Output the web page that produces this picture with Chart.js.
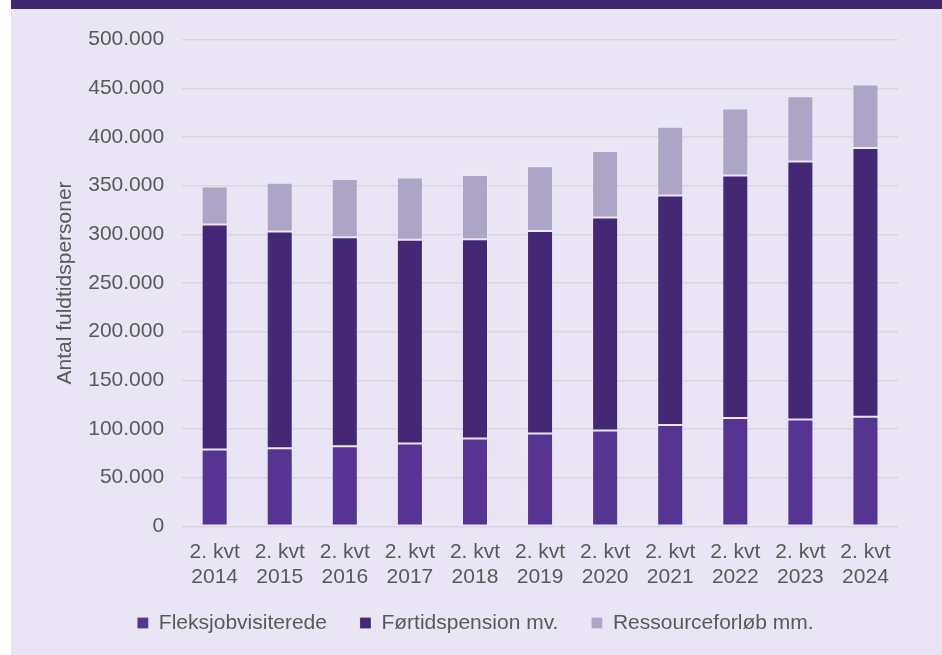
<!DOCTYPE html>
<html>
<head>
<meta charset="utf-8">
<script src="https://cdn.jsdelivr.net/npm/chart.js@4/dist/chart.umd.min.js"></script>
<style>
  html, body { margin: 0; padding: 0; background: #ffffff; }
  body { width: 942px; height: 655px; position: relative; overflow: hidden; }
  .band { position: absolute; left: 11px; top: 0; width: 931px; height: 9px; background: #412670; }
  .panel { position: absolute; left: 11px; top: 9px; width: 931px; height: 646px; background: #E9E5F4; }
</style>
</head>
<body>
<div class="band"></div>
<div class="panel"><canvas id="chart" width="931" height="646"></canvas></div>
<script>
const quarters = [
  ["2. kvt", "2014"], ["2. kvt", "2015"], ["2. kvt", "2016"], ["2. kvt", "2017"],
  ["2. kvt", "2018"], ["2. kvt", "2019"], ["2. kvt", "2020"], ["2. kvt", "2021"],
  ["2. kvt", "2022"], ["2. kvt", "2023"], ["2. kvt", "2024"]
];
const fleksjob = [79000, 80200, 82300, 85000, 90200, 95400, 98500, 104200, 111400, 109800, 112500];
const foertid = [231000, 222600, 214700, 209500, 204800, 208100, 218700, 235600, 249000, 265000, 276100];
const ressource = [39000, 50200, 59700, 63800, 65800, 66500, 68300, 70700, 68900, 66900, 65400];
const seriesNames = ["Fleksjobvisiterede", "Førtidspension mv.", "Ressourceforløb mm."];
const colors = ["#553492", "#442876", "#ADA5C6"];

const textColor = "#595959";
const font = { family: "'Liberation Sans', Arial, sans-serif", size: 21 };

// 500000 -> "500.000"
const fmt = (v) => String(v).replace(/\B(?=(\d{3})+(?!\d))/g, ".");

const makeSet = (i, values) => ({
  label: seriesNames[i],
  data: values,
  backgroundColor: colors[i],
  borderColor: "rgba(255,255,255,0.18)",
  borderWidth: 1,
  borderSkipped: false,
  barPercentage: 0.4,
  categoryPercentage: 1.0,
});

// legend padding is wide between items, but the gap above the legend should be tighter
const LEGEND_PULL = 10;
const legendNudge = {
  id: "legendNudge",
  beforeInit(chart) {
    const fit = chart.legend.fit;
    chart.legend.fit = function () {
      fit.call(this);
      this.height -= LEGEND_PULL;
    };
  },
  afterLayout(chart) {
    chart.legend.top -= LEGEND_PULL;
    chart.legend.bottom -= LEGEND_PULL;
  },
};

new Chart(document.getElementById("chart"), {
  type: "bar",
  data: {
    labels: quarters,
    datasets: [makeSet(0, fleksjob), makeSet(1, foertid), makeSet(2, ressource)],
  },
  plugins: [legendNudge],
  options: {
    responsive: false,
    animation: false,
    layout: { padding: { left: 42, right: 44, top: 18, bottom: 11.5 } },
    plugins: {
      tooltip: { enabled: false },
      legend: {
        position: "bottom",
        labels: {
          color: textColor,
          font: font,
          boxWidth: 11,
          boxHeight: 11,
          padding: 33,
        },
      },
    },
    scales: {
      x: {
        stacked: true,
        grid: { display: false, drawTicks: false },
        border: { display: false },
        ticks: { color: textColor, font: { ...font, lineHeight: 1.17 }, maxRotation: 0, autoSkip: false, padding: 14 },
        // no padding below the labels
        afterFit: (scale) => { scale.height -= 14; },
      },
      y: {
        stacked: true,
        min: 0,
        max: 500000,
        grid: { color: "#D9D5E0", lineWidth: 1.5, drawTicks: false },
        border: { display: false },
        ticks: { stepSize: 50000, color: textColor, font: font, padding: 18, callback: fmt },
        title: { display: true, text: "Antal fuldtidspersoner", color: textColor, font: font, padding: { top: 0, bottom: -8 } },
      },
    },
  },
});
</script>
</body>
</html>
